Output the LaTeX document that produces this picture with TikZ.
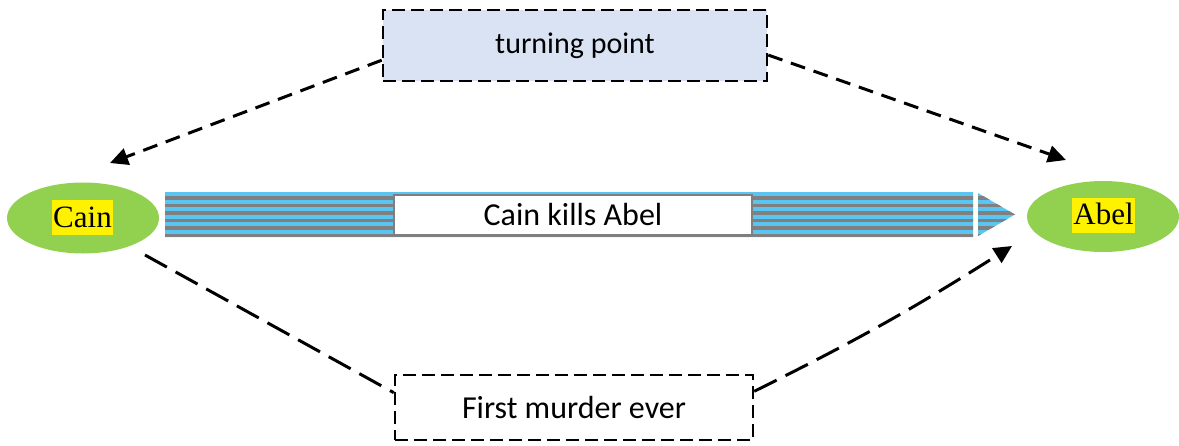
\documentclass[tikz,border=0pt]{standalone}
\usepackage{fontspec}
\setmainfont{Carlito}
\newfontfamily\timesf{Liberation Serif}
\usetikzlibrary{arrows.meta,shapes.geometric,calc}
\definecolor{egreen}{HTML}{92D050}
\definecolor{tpblue}{HTML}{DAE3F3}
\definecolor{barblue}{HTML}{5BC5F2}
\definecolor{bargray}{HTML}{808080}
\definecolor{boxgray}{HTML}{7F7F7F}
\tikzset{
  person/.style={ellipse, fill=egreen, draw=none, minimum width=152pt, minimum height=71pt, inner sep=0pt},
  hilite/.style={fill=yellow, inner xsep=1.5pt, inner ysep=0pt, text height=27pt, text depth=8pt, font=\timesf\fontsize{31}{36}\selectfont},
  dashbox/.style={draw=black, line width=2.5pt, dash pattern=on 13pt off 6pt, inner sep=0pt},
  shortdash/.style={line width=3pt, dash pattern=on 15pt off 9pt},
  longdash/.style={line width=3pt, dash pattern=on 25pt off 10pt},
  tip/.style={-{Triangle[length=18pt,width=17pt]}}
}
\begin{document}
\begin{tikzpicture}[x=1pt,y=-1pt]
\useasboundingbox (0,0) rectangle (1179,445);
% ellipses
\node[person] (cain) at (83,218) {};
\node[hilite] (cainlbl) at (82.5,217.5) {Cain};
\node[person] (abel) at (1103,216.5) {};
\node[hilite] (abellbl) at (1103.5,215) {Abel};
% striped arrow
\begin{scope}
\clip (165,192) rectangle (973,237) (978,193) -- (1015,214.5) -- (978,236) -- cycle;
\fill[barblue] (160,190) rectangle (1020,240);
\foreach \i in {0,...,5} \fill[bargray] (160,{196.3+7.45*\i}) rectangle (1020,{199.9+7.45*\i});
\end{scope}
\node[draw=boxgray, line width=2pt, fill=white, minimum width=358pt, minimum height=40pt, inner sep=0pt, font=\fontsize{32}{36}\selectfont] (kill) at (573,215) {Cain kills Abel};
% boxes
\node[dashbox, fill=tpblue, minimum width=384pt, minimum height=71pt, font=\fontsize{30}{36}\selectfont] (tp) at (575,45.5) {turning point};
\node[dashbox, fill=white, minimum width=358pt, minimum height=65pt, font=\fontsize{32}{36}\selectfont] (fm) at (574,407.5) {First murder ever};
% connector end points
\coordinate (tlend) at (110,163);
\coordinate (trend) at (1066,160);
\coordinate (blstart) at (145,255);
\coordinate (brend) at (1012,246);
\draw[shortdash, tip] ($(tp.north west)!0.7!(tp.south west)$) -- (tlend);
\draw[shortdash, tip] ($(tp.north east)!0.63!(tp.south east)$) -- (trend);
\draw[longdash] (blstart) -- ($(fm.north west)!0.28!(fm.south west)$);
\draw[longdash, tip] ($(fm.north east)!0.26!(fm.south east)$) to[bend right=3] (brend);
\end{tikzpicture}
\end{document}
